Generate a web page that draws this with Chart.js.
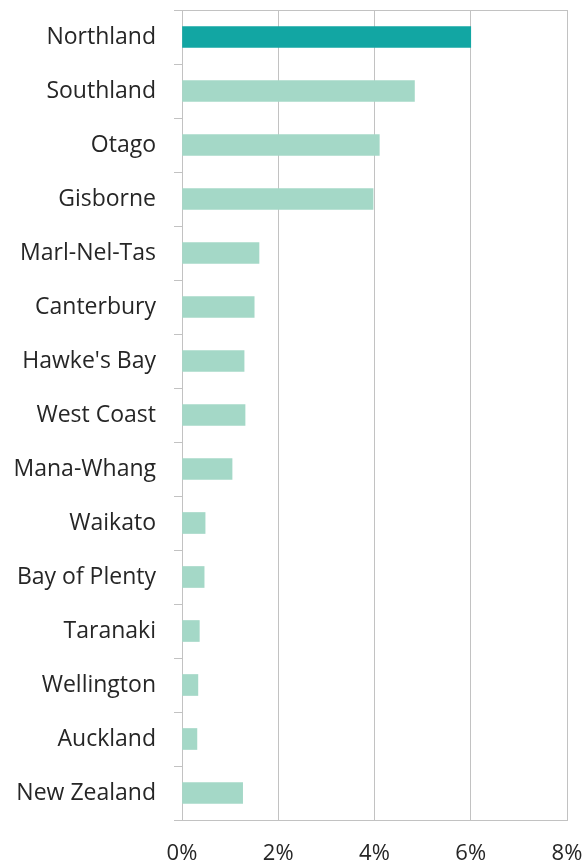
<!DOCTYPE html>
<html>
<head>
<meta charset="utf-8">
<style>
  html, body { margin: 0; padding: 0; background: #ffffff; }
  #wrap { width: 585px; height: 867px; }
</style>
<script src="https://cdn.jsdelivr.net/npm/chart.js@4/dist/chart.umd.min.js"></script>
</head>
<body>
<div id="wrap"><canvas id="chart" width="585" height="867"></canvas></div>
<script>
// Regions, top to bottom, with the share for each (percent)
const regions = [
  'Northland', 'Southland', 'Otago', 'Gisborne', 'Marl-Nel-Tas', 'Canterbury',
  "Hawke's Bay", 'West Coast', 'Mana-Whang', 'Waikato', 'Bay of Plenty',
  'Taranaki', 'Wellington', 'Auckland', 'New Zealand'
];
const shares = [6.0, 4.83, 4.1, 3.97, 1.6, 1.5, 1.29, 1.31, 1.04, 0.48, 0.46, 0.36, 0.33, 0.31, 1.26];
const highlighted = ['Northland'];

const xMin = 0, xMax = 8, xStep = 2;

const GRID = '#c2c2c2';
const TEXT = '#262626';
const DARK = '#12a6a3';
const LIGHT = '#a4d8c7';

const barColors = regions.map(r => highlighted.includes(r) ? DARK : LIGHT);

// Thin frame line along the top of the plot area
const topFrame = {
  id: 'topFrame',
  afterDatasetsDraw(chart) {
    const { ctx, chartArea } = chart;
    ctx.save();
    ctx.strokeStyle = GRID;
    ctx.lineWidth = 1;
    ctx.beginPath();
    ctx.moveTo(chartArea.left, chartArea.top + 0.5);
    ctx.lineTo(chartArea.right, chartArea.top + 0.5);
    ctx.stroke();
    ctx.restore();
  }
};

new Chart(document.getElementById('chart'), {
  type: 'bar',
  data: {
    labels: regions,
    datasets: [{
      data: shares,
      backgroundColor: barColors,
      borderWidth: 0,
      barThickness: 21
    }]
  },
  options: {
    indexAxis: 'y',
    responsive: false,
    animation: false,
    layout: { padding: { top: 10, right: 18, left: 0, bottom: 0 } },
    plugins: {
      legend: { display: false },
      tooltip: { enabled: false }
    },
    scales: {
      x: {
        min: xMin,
        max: xMax,
        grid: { color: GRID, drawTicks: false, lineWidth: 1 },
        border: { color: GRID },
        ticks: {
          stepSize: xStep,
          padding: 21,
          color: TEXT,
          font: { family: 'Open Sans', size: 22 },
          callback: v => v + '%'
        },
        afterFit(scale) {
          scale.height = 47;
          scale.paddingLeft = 0;
          scale.paddingRight = 0;
        }
      },
      y: {
        grid: { drawOnChartArea: false, drawTicks: true, tickLength: 8, color: GRID, offset: true },
        border: { color: GRID },
        ticks: {
          padding: 18,
          color: TEXT,
          font: { family: 'Open Sans', size: 23 }
        },
        afterFit(scale) {
          scale.width = 182;
          scale.paddingTop = 0;
          scale.paddingBottom = 0;
        }
      }
    }
  },
  plugins: [topFrame]
});
</script>
</body>
</html>
